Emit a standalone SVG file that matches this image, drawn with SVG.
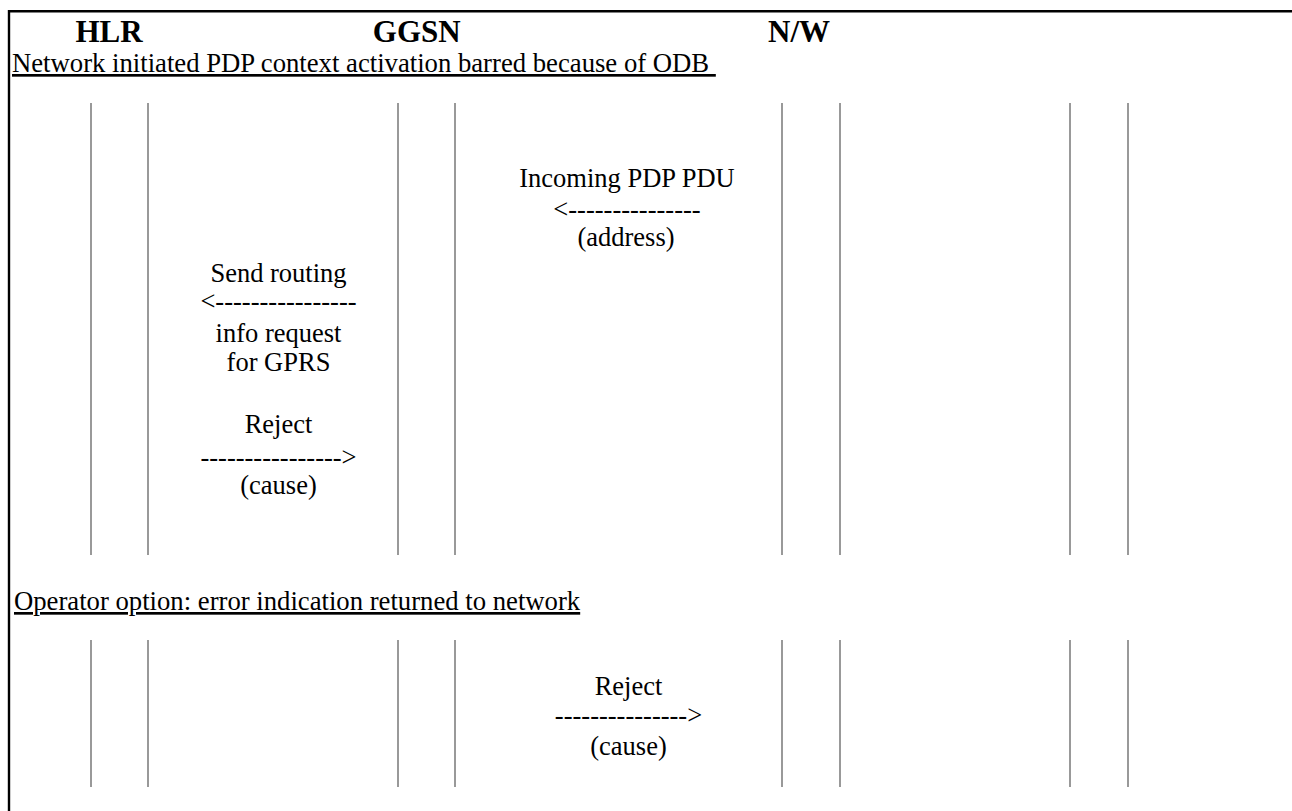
<svg xmlns="http://www.w3.org/2000/svg" width="1292" height="811" viewBox="0 0 1292 811">
<style>
.t{font-family:"Liberation Serif","Times New Roman",serif;font-size:26.5px;fill:#000}
.m{text-anchor:middle}
.h{font-family:"Liberation Serif","Times New Roman",serif;font-size:31px;font-weight:bold;text-anchor:middle;fill:#000}
.u{font-size:26.7px;text-decoration:underline;white-space:pre}
.life{stroke:#555;stroke-width:1.2;fill:none}
.frame{stroke:#000;stroke-width:2.4;fill:none}
</style>
<rect width="1292" height="811" fill="#fff"/>
<g id="frame"><polyline class="frame" points="9,811 9,11.3 1292,11.3"/></g>
<g id="headers">
<text class="h" x="109" y="42.3">HLR</text>
<text class="h" x="416.7" y="42.3">GGSN</text>
<text class="h" x="799" y="42.3">N/W</text>
</g>
<g id="section1-title"><text class="t u" x="12" y="72" xml:space="preserve">Network initiated PDP context activation barred because of ODB </text></g>
<g id="lifelines">
<g id="s1">
<line class="life" x1="91" y1="103" x2="91" y2="555"/>
<line class="life" x1="148" y1="103" x2="148" y2="555"/>
<line class="life" x1="398" y1="103" x2="398" y2="555"/>
<line class="life" x1="455" y1="103" x2="455" y2="555"/>
<line class="life" x1="782" y1="103" x2="782" y2="555"/>
<line class="life" x1="840" y1="103" x2="840" y2="555"/>
<line class="life" x1="1070" y1="103" x2="1070" y2="555"/>
<line class="life" x1="1128" y1="103" x2="1128" y2="555"/>
</g>
<g id="s2">
<line class="life" x1="91" y1="640" x2="91" y2="787"/>
<line class="life" x1="148" y1="640" x2="148" y2="787"/>
<line class="life" x1="398" y1="640" x2="398" y2="787"/>
<line class="life" x1="455" y1="640" x2="455" y2="787"/>
<line class="life" x1="782" y1="640" x2="782" y2="787"/>
<line class="life" x1="840" y1="640" x2="840" y2="787"/>
<line class="life" x1="1070" y1="640" x2="1070" y2="787"/>
<line class="life" x1="1128" y1="640" x2="1128" y2="787"/>
</g>
</g>
<g id="connectors">
<g id="msg-incoming">
<text class="t m" x="627" y="187">Incoming PDP PDU</text>
<text class="t m" x="627" y="217.5">&lt;---------------</text>
<text class="t m" x="626" y="246">(address)</text>
</g>
<g id="msg-sri">
<text class="t m" x="278.5" y="282">Send routing</text>
<text class="t m" x="278.5" y="309.5">&lt;----------------</text>
<text class="t m" x="278.5" y="341.5">info request</text>
<text class="t m" x="278.5" y="371">for GPRS</text>
</g>
<g id="msg-reject1">
<text class="t m" x="278.5" y="433">Reject</text>
<text class="t m" x="278.5" y="465.5">----------------&gt;</text>
<text class="t m" x="278.5" y="494">(cause)</text>
</g>
<g id="msg-reject2">
<text class="t m" x="628.5" y="695">Reject</text>
<text class="t m" x="628.5" y="724">---------------&gt;</text>
<text class="t m" x="628.5" y="755">(cause)</text>
</g>
</g>
<g id="section2-title"><text class="t u" x="14" y="610">Operator option: error indication returned to network</text></g>
</svg>
